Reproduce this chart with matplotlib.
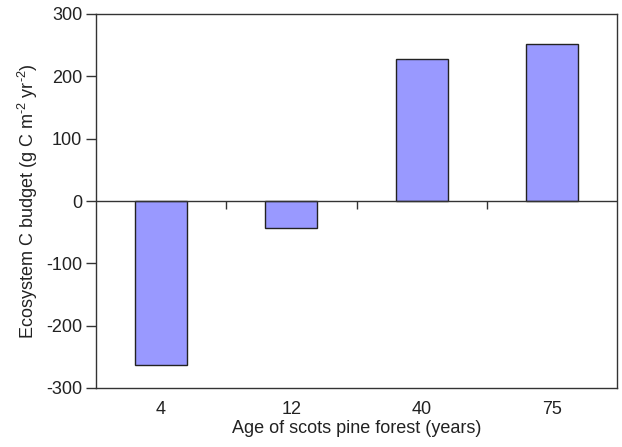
import numpy as np
import matplotlib.pyplot as plt
from matplotlib.lines import TICKDOWN

plt.rcParams['font.family'] = ['Liberation Sans', 'DejaVu Sans']
plt.rcParams['axes.unicode_minus'] = False
plt.rcParams['mathtext.fontset'] = 'custom'
plt.rcParams['mathtext.rm'] = 'Liberation Sans'

# data
ages = ["4", "12", "40", "75"]
budget = [-263, -43, 228, 252]

fig = plt.figure(figsize=(6.22, 4.47), dpi=100)
ax = fig.add_axes([96 / 622, 1 - 388 / 447, 521 / 622, 374 / 447])

x = np.arange(len(ages))
ax.bar(x, budget, width=0.4, color="#9999ff", edgecolor="#222222", linewidth=1.0, zorder=2)

# zero line with category separators
ax.axhline(0, color="#333333", linewidth=1.0, zorder=3)
sep = x[:-1] + 0.5
ax.plot(sep, np.zeros(len(sep)), linestyle="none", marker=TICKDOWN,
        markersize=6, color="#333333", markeredgewidth=1.0, zorder=3)

ax.set_xlim(-0.5, len(ages) - 0.5)
ax.set_ylim(-300, 300)
ax.set_yticks(np.arange(-300, 301, 100))
ax.set_xticks(x)
ax.set_xticklabels(ages)

for s in ax.spines.values():
    s.set_color("#333333")
    s.set_linewidth(1.0)

fs = 13
ax.tick_params(axis="y", direction="out", length=7, width=1.0, color="#333333",
               labelsize=fs, pad=3, labelcolor="#222222")
ax.tick_params(axis="x", length=0, labelsize=fs, pad=9, labelcolor="#222222")

ax.set_xlabel("Age of scots pine forest (years)", fontsize=fs, labelpad=2, color="#222222")
ax.set_ylabel(r"Ecosystem C budget (g C m$^{\text{-2}}$ yr$^{\text{-2}}$)", fontsize=fs,
              labelpad=4, color="#222222")

fig.savefig("out.png", dpi=100)
